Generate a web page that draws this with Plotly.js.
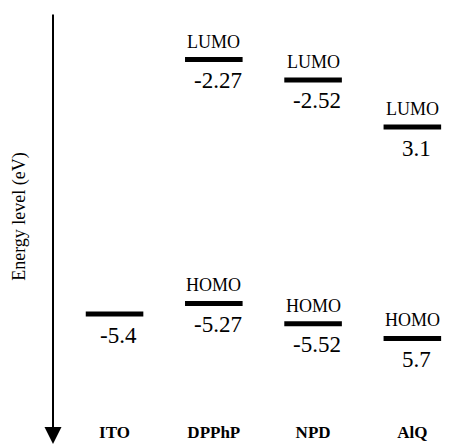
<!DOCTYPE html>
<html>
<head>
<meta charset="utf-8">
<script src="https://cdn.plot.ly/plotly-3.0.1.min.js"></script>
<style>html,body{margin:0;padding:0;background:#fff}#chart{width:459px;height:446px}</style>
</head>
<body>
<div id="chart"></div>
<script>
// Data
const materials = ['ITO', 'DPPhP', 'NPD', 'AlQ'];
const lumo = [null, -2.27, -2.52, -3.1];
const homo = [-5.4, -5.27, -5.52, -5.7];
const lumoText = ['', '-2.27', '-2.52', '3.1'];
const homoText = ['-5.4', '-5.27', '-5.52', '5.7'];
const lumoName = ['', 'LUMO', 'LUMO', 'LUMO'];
const homoName = ['', 'HOMO', 'HOMO', 'HOMO'];

const halfW = 0.29;
const serif = 'Liberation Serif';

function segments(vals) {
  const xs = [], ys = [];
  vals.forEach((v, i) => {
    if (v === null) return;
    xs.push(i - halfW, i + halfW, null);
    ys.push(v, v, null);
  });
  return {xs, ys};
}
const L = segments(lumo), H = segments(homo);
const lineStyle = {color: '#000', width: 5};
const traces = [
  {x: L.xs, y: L.ys, mode: 'lines', line: lineStyle, hoverinfo: 'skip', showlegend: false},
  {x: H.xs, y: H.ys, mode: 'lines', line: lineStyle, hoverinfo: 'skip', showlegend: false}
];

const ann = [];
function addLabels(vals, names, texts) {
  vals.forEach((v, i) => {
    if (v === null) return;
    if (names[i]) ann.push({x: i, y: v, xref: 'x', yref: 'y', text: names[i], showarrow: false,
      yshift: 18, font: {family: serif, size: 18, color: '#000'}});
    ann.push({x: i, y: v, xref: 'x', yref: 'y', text: texts[i], showarrow: false,
      yshift: -21, xshift: 4, font: {family: serif, size: 23, color: '#000'}});
  });
}
addLabels(lumo, lumoName, lumoText);
addLabels(homo, homoName, homoText);

// downward arrow for the energy axis
ann.push({x: 0, y: -0.059, xref: 'paper', yref: 'paper', ax: 0, ay: -431, axref: 'pixel', ayref: 'pixel',
  showarrow: true, arrowhead: 2, arrowsize: 1.7, arrowwidth: 2, arrowcolor: '#000', text: ''});

const layout = {
  width: 459, height: 446,
  margin: {l: 53, r: 0, t: 13, b: 26},
  paper_bgcolor: '#fff', plot_bgcolor: '#fff',
  font: {family: serif, color: '#000'},
  xaxis: {range: [-0.62, 3.47], tickvals: [0, 1, 2, 3], ticktext: materials,
    showgrid: false, zeroline: false, showline: false, ticks: '', ticklabelstandoff: 0,
    tickfont: {family: serif, size: 17, color: '#000', weight: 'bold'}},
  yaxis: {range: [-6.703, -1.697], showgrid: false, zeroline: false, showline: false,
    showticklabels: false, ticks: '',
    title: {text: 'Energy level (eV)', standoff: 21, font: {family: serif, size: 18, color: '#000'}}},
  annotations: ann
};
Plotly.newPlot('chart', traces, layout, {staticPlot: true, displayModeBar: false});
</script>
</body>
</html>
